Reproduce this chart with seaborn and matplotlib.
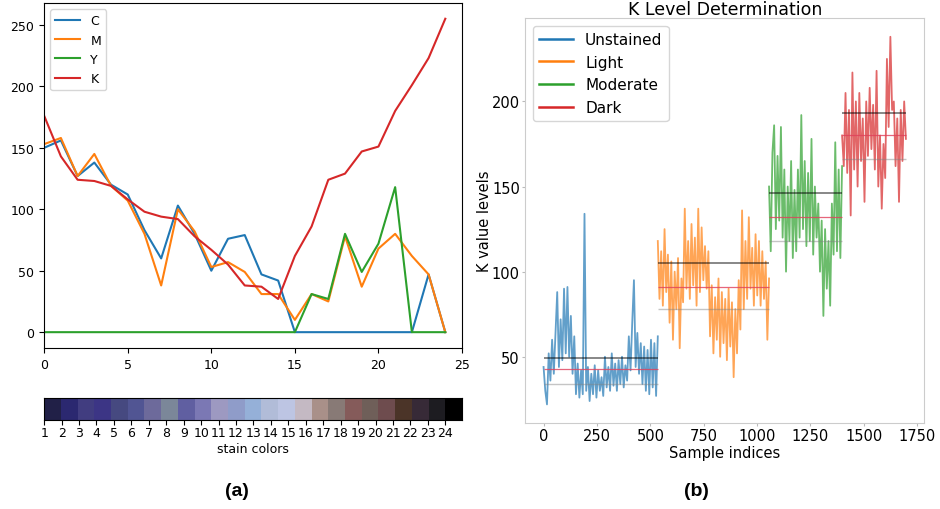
import numpy as np
import pandas as pd
import matplotlib
matplotlib.use("Agg")
import matplotlib.pyplot as plt
from matplotlib.colors import ListedColormap
import seaborn as sns

# ---- left panel: CMYK levels per stain color ----
stain_idx = list(range(25))
c_vals = [150, 156, 127, 138, 120, 112, 83, 60, 103, 80, 50, 76, 79, 47, 42,
          0, 0, 0, 0, 0, 0, 0, 0, 47, 0]
m_vals = [153, 158, 127, 145, 119, 107, 80, 38, 100, 82, 53, 57, 49, 31, 31,
          10, 31, 25, 78, 37, 68, 80, 62, 47, 0]
y_vals = [0, 0, 0, 0, 0, 0, 0, 0, 0, 0, 0, 0, 0, 0, 0,
          0, 31, 27, 80, 49, 72, 118, 0, 0, 0]
k_vals = [176, 143, 124, 123, 119, 108, 98, 94, 92, 78, 67, 55, 38, 37, 27,
          62, 86, 124, 129, 147, 151, 180, 201, 223, 255]
cmyk_names = ["C", "M", "Y", "K"]

stain_colors = ["#212047", "#2b2870", "#413d80", "#3c3585", "#464980", "#515593",
                "#6d6a9b", "#7b8799", "#605fa1", "#7b78b4", "#9d99c1", "#8f9cc9",
                "#95b0d8", "#b1bcd8", "#bdc5e3", "#c4b9c3", "#a99089", "#887a76",
                "#855b5a", "#6f5f59", "#6e4c4e", "#4b3428", "#372a37", "#1d1c21",
                "#000000"]
stain_labels = [str(i) for i in range(1, 25)]

# ---- right panel: K values per sample ----
seg_names = ["Unstained", "Light", "Moderate", "Dark"]
seg_ranges = [(0, 535), (535, 1056), (1056, 1398), (1398, 1697)]
unstained = [44, 30, 22, 52, 36, 60, 40, 64, 88, 44, 72, 48, 90, 52, 91, 50, 74,
             40, 62, 28, 46, 26, 42, 28, 134, 30, 44, 24, 40, 28, 45, 26, 42, 30,
             38, 27, 50, 32, 44, 30, 52, 33, 46, 30, 48, 34, 50, 32, 45, 36, 62,
             42, 70, 95, 44, 64, 40, 58, 34, 56, 30, 54, 28, 60, 32, 58, 27, 62]
light = [118, 84, 112, 80, 125, 88, 110, 70, 106, 60, 100, 78, 108, 55, 96, 82,
         137, 90, 118, 84, 128, 92, 120, 80, 137, 88, 126, 95, 115, 90, 112, 62,
         92, 52, 85, 60, 96, 50, 88, 58, 84, 48, 90, 56, 82, 38, 78, 52, 95, 66,
         136, 78, 118, 84, 132, 90, 114, 80, 122, 86, 118, 80, 112, 84, 106, 60, 96]
moderate = [150, 112, 170, 186, 125, 168, 130, 185, 120, 160, 100, 150, 118, 165,
            108, 148, 112, 160, 120, 192, 125, 165, 115, 158, 118, 178, 110, 150,
            120, 140, 100, 130, 74, 125, 90, 118, 80, 140, 110, 176, 112, 160, 108,
            162]
dark = [180, 162, 205, 158, 195, 133, 217, 160, 200, 150, 205, 165, 190, 141, 200,
        168, 208, 172, 198, 160, 218, 150, 180, 137, 175, 155, 225, 185, 238, 195,
        200, 162, 190, 141, 195, 165, 200, 178]
seg_values = [unstained, light, moderate, dark]
# upper / mean / lower reference levels for each class
level_hi = [49, 105, 146, 193]
level_mid = [43, 91, 132, 180]
level_lo = [34, 78, 118, 166]

palette = sns.color_palette("tab10", 4)

fig = plt.figure(figsize=(9.4, 5.1), dpi=100)
ax1 = fig.add_axes([0.047, 0.316, 0.4445, 0.676])
cax = fig.add_axes([0.047, 0.1745, 0.4445, 0.043])
ax2 = fig.add_axes([0.559, 0.169, 0.424, 0.793])

# left line chart
for name, vals, col in zip(cmyk_names, [c_vals, m_vals, y_vals, k_vals], palette):
    sns.lineplot(x=stain_idx, y=vals, color=col, lw=1.5, label=name, ax=ax1)
ax1.set_xlim(0, 25)
ax1.set_xlabel("")
ax1.set_ylabel("")
ax1.tick_params(labelsize=9)
ax1.legend(loc="upper left", fontsize=9)

# stain colour strip
sns.heatmap(np.arange(len(stain_colors)).reshape(1, -1), cmap=ListedColormap(stain_colors),
            cbar=False, ax=cax)
cax.set_xticks(np.linspace(0, 24, 24))
cax.set_xticklabels(stain_labels, rotation=0, fontsize=9)
cax.set_yticks([])
cax.tick_params(axis="x", length=3.5, pad=1)
for sp in cax.spines.values():
    sp.set_visible(True)
    sp.set_linewidth(0.8)
cax.set_xlabel("stain colors", fontsize=9, labelpad=2)

# right chart
for name, vals, (s0, s1), col in zip(seg_names, seg_values, seg_ranges, palette):
    xs = np.linspace(s0, s1, len(vals))
    sns.lineplot(x=xs, y=vals, color=col, lw=1.3, alpha=0.7, label=name, ax=ax2)
for (s0, s1), hi, mid, lo in zip(seg_ranges, level_hi, level_mid, level_lo):
    ax2.hlines(hi, s0, s1, colors="k", lw=1.2, alpha=0.55)
    ax2.hlines(mid, s0, s1, colors="#e0405a", lw=0.9, alpha=0.8)
    ax2.hlines(lo, s0, s1, colors="gray", lw=1.0, alpha=0.45)
ax2.set_title("K Level Determination", fontsize=12.5, pad=2)
ax2.set_xlabel("Sample indices", fontsize=10.5, labelpad=1)
ax2.set_ylabel("K value levels", fontsize=10.5, labelpad=0)
ax2.set_xticks(range(0, 1751, 250))
ax2.set_yticks([50, 100, 150, 200])
ax2.tick_params(labelsize=10.5, length=2, color="#bbbbbb", pad=2)
for sp in ax2.spines.values():
    sp.set_color("#cccccc")
leg = ax2.legend(loc="upper left", fontsize=11, handlelength=2.2)
for h in leg.legend_handles:
    h.set_alpha(1)
    h.set_linewidth(1.8)

fig.text(0.252, 0.037, "(a)", ha="center", va="center", fontsize=14,
         fontweight="bold", family="Liberation Sans")
fig.text(0.741, 0.037, "(b)", ha="center", va="center", fontsize=14,
         fontweight="bold", family="Liberation Sans")

fig.savefig("out.png", dpi=100)
